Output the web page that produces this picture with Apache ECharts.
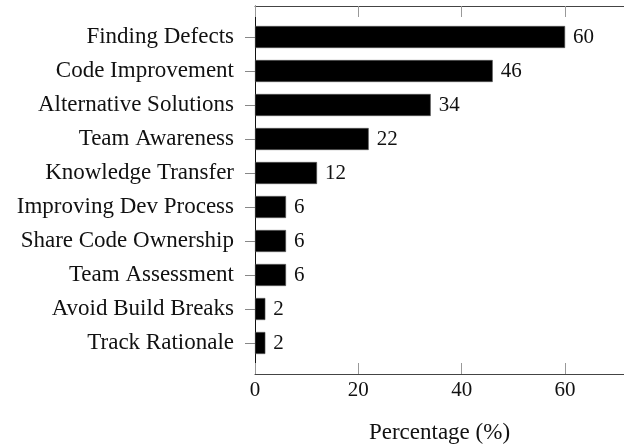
<!DOCTYPE html>
<html>
<head>
<meta charset="utf-8">
<script src="https://cdn.jsdelivr.net/npm/echarts@6/dist/echarts.min.js"></script>
<style>html,body{margin:0;padding:0;background:#fff}#c{width:624px;height:446px}</style>
</head>
<body>
<div id="c"></div>
<script>
const categories = ["Finding Defects","Code Improvement","Alternative Solutions","Team Awareness","Knowledge Transfer","Improving Dev Process","Share Code Ownership","Team Assessment","Avoid Build Breaks","Track Rationale"];
const values = [60,46,34,22,12,6,6,6,2,2];
const xTicks = [0,20,40,60];
const xName = "Percentage (%)";

const FONT = "'Liberation Serif', 'DejaVu Serif', serif";
const XMIN = 0, XMAX = 71.4;
const chart = echarts.init(document.getElementById('c'), null, {renderer:'canvas'});
chart.setOption({
  animation:false,
  backgroundColor:'#fff',
  grid:[
    {left:255, right:0, top:6, bottom:72, outerBoundsMode:'none', containLabel:false},
    {left:255, right:0, top:20, height:340, outerBoundsMode:'none', containLabel:false}
  ],
  xAxis:[
    {gridIndex:0, type:'value', min:XMIN, max:XMAX, interval:20, position:'bottom',
     axisLine:{show:true, lineStyle:{color:'#444', width:1}},
     axisTick:{show:true, inside:true, length:11, lineStyle:{color:'#999'}},
     axisLabel:{show:true, margin:6, color:'#111', fontFamily:FONT, fontSize:21,
       showMaxLabel:false,
       formatter:v=> xTicks.indexOf(v)>=0 ? String(v) : ''},
     splitLine:{show:false},
     name:xName, nameLocation:'middle', nameGap:47,
     nameTextStyle:{color:'#111', fontFamily:FONT, fontSize:23}},
    {gridIndex:0, type:'value', min:XMIN, max:XMAX, interval:20, position:'top',
     axisLine:{show:true, lineStyle:{color:'#444', width:1}},
     axisTick:{show:true, inside:true, length:11, lineStyle:{color:'#999'}},
     axisLabel:{show:false}, splitLine:{show:false}},
    {gridIndex:1, type:'value', min:XMIN, max:XMAX, show:false}
  ],
  yAxis:[
    {gridIndex:0, type:'value', min:0, max:1, position:'left',
     axisLine:{show:true, lineStyle:{color:'#111', width:1}},
     axisTick:{show:false}, axisLabel:{show:false}, splitLine:{show:false}},
    {gridIndex:1, type:'category', data:categories, inverse:true,
     axisLine:{show:false},
     axisTick:{show:true, alignWithLabel:true, inside:false, length:10, lineStyle:{color:'#888'}},
     axisLabel:{margin:21, color:'#111', fontFamily:FONT, fontSize:23},
     splitLine:{show:false}}
  ],
  series:[{
    type:'bar', xAxisIndex:2, yAxisIndex:1, data:values,
    barWidth:22,
    itemStyle:{color:'#000', borderColor:'#555', borderWidth:0.6},
    label:{show:true, position:'right', distance:8, color:'#111', fontFamily:FONT, fontSize:21}
  }]
});
</script>
</body>
</html>
